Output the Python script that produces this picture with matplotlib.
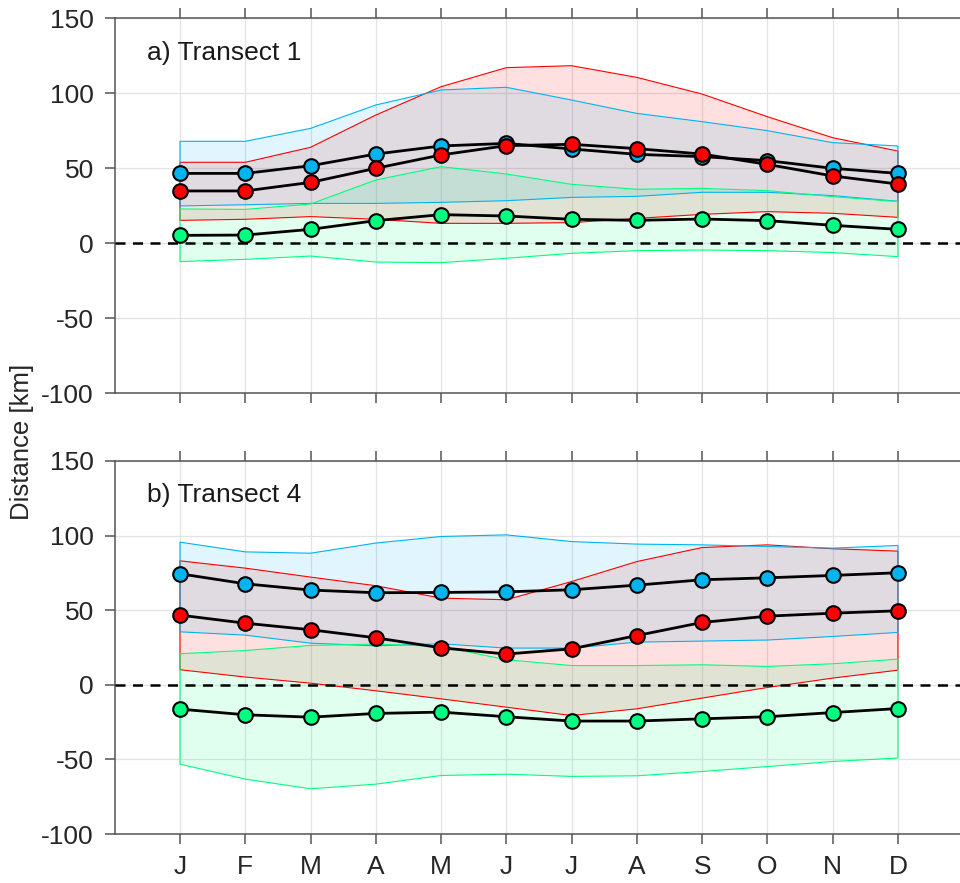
import numpy as np
import matplotlib.pyplot as plt

plt.rcParams['font.family'] = ['Liberation Sans', 'DejaVu Sans']
plt.rcParams['axes.unicode_minus'] = False

# ── months ──────────────────────────────────────
MESES = ["J", "F", "M", "A", "M", "J", "J", "A", "S", "O", "N", "D"]
X = np.arange(1, 13)

# ── Transect 1 ──────────────────────────────────
t1_azul      = [46.4, 46.4, 51.5, 59.3, 64.7, 66.4, 62.7, 59.1, 57.6, 54.9, 49.8, 46.4]
t1_azul_sup  = [67.8, 67.8, 76.4, 92.0, 102.0, 103.8, 95.3, 86.4, 80.9, 74.9, 66.9, 64.7]
t1_azul_inf  = [24.7, 25.5, 26.4, 26.4, 27.1, 28.2, 30.4, 31.1, 33.8, 33.8, 31.6, 27.8]

t1_verm      = [34.7, 34.7, 40.4, 49.8, 58.7, 64.9, 65.8, 62.9, 59.3, 52.4, 44.7, 39.3]
t1_verm_sup  = [53.8, 53.8, 63.8, 85.3, 104.2, 116.9, 118.2, 110.4, 99.3, 84.2, 70.2, 61.3]
t1_verm_inf  = [15.1, 15.8, 17.6, 15.8, 13.1, 13.1, 13.6, 16.4, 19.1, 20.9, 19.8, 17.1]

t1_verde     = [5.1, 5.3, 9.1, 14.9, 18.9, 18.0, 15.8, 15.1, 16.0, 14.9, 11.8, 9.1]
t1_verde_sup = [22.7, 22.4, 26.0, 42.0, 50.9, 46.0, 39.1, 35.8, 36.4, 34.9, 30.9, 27.6]
t1_verde_inf = [-12.4, -10.9, -8.7, -12.7, -13.1, -10.2, -6.9, -5.1, -4.7, -5.1, -6.4, -9.1]

# ── Transect 4 ──────────────────────────────────
t4_azul      = [74.4, 67.7, 63.5, 61.7, 61.9, 62.3, 63.7, 66.8, 70.4, 71.7, 73.3, 75.1]
t4_azul_sup  = [95.6, 89.1, 88.2, 95.0, 99.4, 100.5, 96.0, 94.3, 93.8, 92.7, 91.6, 93.4]
t4_azul_inf  = [35.5, 33.3, 27.9, 26.1, 27.5, 24.6, 24.6, 28.6, 29.3, 30.0, 32.4, 35.1]

t4_verm      = [46.7, 41.3, 36.9, 31.5, 24.8, 20.6, 24.1, 33.0, 41.8, 46.0, 48.0, 49.6]
t4_verm_sup  = [83.1, 78.2, 72.2, 66.4, 58.1, 57.0, 69.2, 82.6, 92.0, 93.8, 91.2, 89.6]
t4_verm_inf  = [10.1, 5.2, 1.1, -4.0, -9.4, -15.0, -20.6, -16.1, -8.9, -1.8, 4.5, 9.8]

t4_verde     = [-16.3, -20.1, -21.7, -19.2, -18.3, -21.4, -24.3, -24.3, -22.8, -21.4, -18.6, -15.9]
t4_verde_sup = [20.8, 23.0, 26.4, 27.3, 25.7, 16.8, 12.9, 12.9, 13.4, 12.3, 14.1, 17.2]
t4_verde_inf = [-53.2, -63.2, -69.7, -66.6, -60.8, -59.9, -61.4, -61.0, -58.1, -54.8, -51.4, -49.1]

AZUL, VERM, VERDE = "#00b4f0", "#ff0000", "#00ff80"
CINZA = "#555555"


def painel(ax, series, titulo, rotulos_x):
    # envelopes: vermelho por baixo, depois azul e verde
    azul, verm, verde = series
    for media, sup, inf, cor in (verm, azul, verde):
        xs = np.concatenate([X, X[::-1]])
        ys = np.concatenate([sup, inf[::-1]])
        ax.fill(xs, ys, facecolor=cor, alpha=0.12, edgecolor="none", zorder=1)
        ax.fill(xs, ys, facecolor="none", edgecolor=cor, linewidth=0.8, zorder=2)
    ax.axhline(0, color="black", linestyle=(0, (4, 3)), linewidth=1.8, zorder=3)
    for media, sup, inf, cor in (azul, verm, verde):
        ax.plot(X, media, "-o", color="black", linewidth=2,
                markerfacecolor=cor, markeredgecolor="black",
                markeredgewidth=1.5, markersize=10.5, zorder=4)

    ax.set_xlim(0, 13)
    ax.set_ylim(-100, 150)
    ax.set_xticks(X)
    ax.set_xticklabels(MESES if rotulos_x else [])
    ax.set_yticks([-100, -50, 0, 50, 100, 150])
    ax.grid(True, color="#e3e3e3", linewidth=0.9, zorder=0)
    ax.set_axisbelow(True)
    ax.tick_params(direction="out", length=7, width=1.1, color=CINZA,
                   labelcolor="#262626", labelsize=19, top=True, pad=8)
    for s in ax.spines.values():
        s.set_color(CINZA)
        s.set_linewidth(1.1)
    ax.text(0.5, 127, titulo, fontsize=19, color="#1a1a1a", va="center")


fig = plt.figure(figsize=(9.6, 8.83), dpi=100)
ax1 = fig.add_axes([114.7 / 960, 1 - 393 / 883, 848.5 / 960, 375 / 883])
ax2 = fig.add_axes([114.7 / 960, 1 - 834 / 883, 848.5 / 960, 373 / 883])

painel(ax1, [(t1_azul, t1_azul_sup, t1_azul_inf, AZUL),
             (t1_verm, t1_verm_sup, t1_verm_inf, VERM),
             (t1_verde, t1_verde_sup, t1_verde_inf, VERDE)],
       "a) Transect 1", False)
painel(ax2, [(t4_azul, t4_azul_sup, t4_azul_inf, AZUL),
             (t4_verm, t4_verm_sup, t4_verm_inf, VERM),
             (t4_verde, t4_verde_sup, t4_verde_inf, VERDE)],
       "b) Transect 4", True)

fig.text(22 / 960, 1 - 442 / 883, "Distance [km]", rotation=90,
         fontsize=18.5, color="#262626", ha="center", va="center")

fig.savefig("out.png", dpi=100)
